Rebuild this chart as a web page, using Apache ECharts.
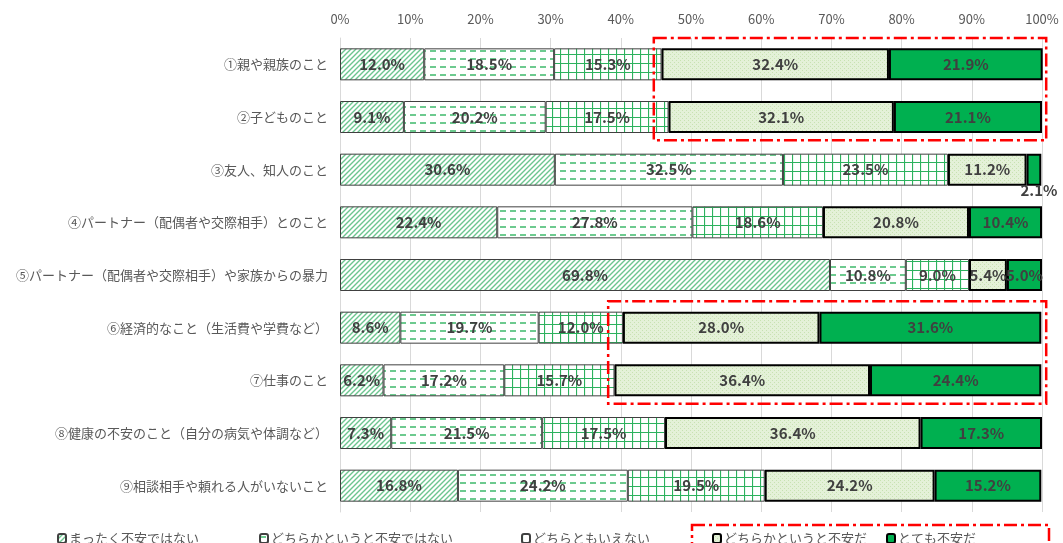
<!DOCTYPE html>
<html>
<head>
<meta charset="utf-8">
<script src="https://cdn.jsdelivr.net/npm/echarts@6/dist/echarts.min.js"></script>
<style>
  html, body { margin: 0; padding: 0; background: #fff; }
  #main { width: 1063px; height: 543px; }
</style>
</head>
<body>
<div id="main"></div>
<script>
var categories = [
  '①親や親族のこと',
  '②子どものこと',
  '③友人、知人のこと',
  '④パートナー（配偶者や交際相手）とのこと',
  '⑤パートナー（配偶者や交際相手）や家族からの暴力',
  '⑥経済的なこと（生活費や学費など）',
  '⑦仕事のこと',
  '⑧健康の不安のこと（自分の病気や体調など）',
  '⑨相談相手や頼れる人がいないこと'
];
var seriesNames = ['まったく不安ではない', 'どちらかというと不安ではない', 'どちらともいえない', 'どちらかというと不安だ', 'とても不安だ'];
var notAtAll  = [12.0, 9.1, 30.6, 22.4, 69.8, 8.6, 6.2, 7.3, 16.8];
var ratherNot = [18.5, 20.2, 32.5, 27.8, 10.8, 19.7, 17.2, 21.5, 24.2];
var neither   = [15.3, 17.5, 23.5, 18.6, 9.0, 12.0, 15.7, 17.5, 19.5];
var ratherYes = [32.4, 32.1, 11.2, 20.8, 5.4, 28.0, 36.4, 36.4, 24.2];
var very      = [21.9, 21.1, 2.1, 10.4, 5.0, 31.6, 24.4, 17.3, 15.2];
var xTicks = [0, 10, 20, 30, 40, 50, 60, 70, 80, 90, 100];

// fill patterns
function pattern(w, h, draw) {
  var c = document.createElement('canvas');
  c.width = w; c.height = h;
  var ctx = c.getContext('2d');
  draw(ctx, w, h);
  return { image: c, repeat: 'repeat' };
}
var diag = pattern(5, 5, function (ctx, w, h) {
  ctx.fillStyle = '#ffffff'; ctx.fillRect(0, 0, w, h);
  ctx.strokeStyle = '#6cc58f'; ctx.lineWidth = 1.4;
  ctx.beginPath();
  ctx.moveTo(-1, h + 1); ctx.lineTo(w + 1, -1);
  ctx.moveTo(-1, 1); ctx.lineTo(1, -1);
  ctx.moveTo(w - 1, h + 1); ctx.lineTo(w + 1, h - 1);
  ctx.stroke();
});
var dashes = pattern(10, 8, function (ctx, w, h) {
  ctx.fillStyle = '#ffffff'; ctx.fillRect(0, 0, w, h);
  ctx.strokeStyle = '#3cb86a'; ctx.lineWidth = 1.5;
  ctx.beginPath(); ctx.moveTo(0, 3); ctx.lineTo(6, 3); ctx.stroke();
});
var grid = pattern(8, 9, function (ctx, w, h) {
  ctx.fillStyle = '#ffffff'; ctx.fillRect(0, 0, w, h);
  ctx.strokeStyle = '#2db25e'; ctx.lineWidth = 1.2;
  ctx.beginPath();
  ctx.moveTo(0.5, 0); ctx.lineTo(0.5, h);
  ctx.moveTo(0, 0.5); ctx.lineTo(w, 0.5);
  ctx.stroke();
});
var dots = pattern(4, 4, function (ctx, w, h) {
  ctx.fillStyle = '#e4f1d8'; ctx.fillRect(0, 0, w, h);
  ctx.fillStyle = '#c8e2b2';
  ctx.fillRect(0, 0, 1, 1); ctx.fillRect(2, 2, 1, 1);
});

var fills = [diag, dashes, grid, dots, '#00b050'];
var borders = [
  { borderColor: '#404040', borderWidth: 1 },
  { borderColor: '#404040', borderWidth: 1 },
  { borderColor: '#404040', borderWidth: 1 },
  { borderColor: '#000000', borderWidth: 2 },
  { borderColor: '#000000', borderWidth: 2 }
];
var allData = [notAtAll, ratherNot, neither, ratherYes, very];

var labelFont = { fontFamily: 'Noto Sans CJK JP', fontWeight: 'bold', fontSize: 15, color: '#404040' };

var series = allData.map(function (arr, s) {
  return {
    name: seriesNames[s],
    type: 'bar',
    stack: 'total',
    barWidth: 32,
    itemStyle: Object.assign({ color: fills[s] }, borders[s]),
    label: Object.assign({
      show: true,
      position: 'inside',
      formatter: function (p) { return p.value.toFixed(1) + '%'; }
    }, labelFont),
    data: arr.map(function (v) {
      if (s === 4 && v < 3) {
        return { value: v, label: { position: 'bottom', distance: 0, offset: [5, -3] } };
      }
      return v;
    })
  };
});

var legendLeft = [52, 254, 516, 707, 881];
var legends = seriesNames.map(function (n, i) {
  return {
    data: [n],
    left: legendLeft[i],
    top: 527,
    itemWidth: 8,
    itemHeight: 9,
    itemGap: 4,
    textStyle: { fontFamily: 'Noto Sans CJK JP', fontSize: 13, color: '#595959', padding: [0, 0, 0, -2] },
    selectedMode: false
  };
});

var myChart = echarts.init(document.getElementById('main'));
var option = {
  animation: false,
  legend: legends,
  grid: { left: 340, right: 21, top: 38, bottom: 31, containLabel: false },
  xAxis: {
    type: 'value',
    position: 'top',
    min: 0,
    max: 100,
    interval: 10,
    axisLine: { show: false },
    axisTick: { show: false },
    splitLine: { lineStyle: { color: '#d9d9d9', width: 1 } },
    axisLabel: {
      fontFamily: 'Noto Sans CJK JP',
      fontSize: 13,
      color: '#595959',
      margin: 12,
      formatter: function (v) { return xTicks.indexOf(v) >= 0 ? v + '%' : ''; }
    }
  },
  yAxis: {
    type: 'category',
    inverse: true,
    data: categories,
    axisTick: { show: false },
    axisLine: { lineStyle: { color: '#d9d9d9' } },
    axisLabel: { fontFamily: 'Noto Sans CJK JP', fontSize: 13, color: '#595959', margin: 12 }
  },
  series: series
};
myChart.setOption(option);

// red dash-dot highlight boxes
function box(left, right, r0, r1) {
  var a = myChart.convertToPixel({ gridIndex: 0 }, [left, r0]);
  var b = myChart.convertToPixel({ gridIndex: 0 }, [right, r1]);
  var band = myChart.convertToPixel({ gridIndex: 0 }, [0, 1])[1] - myChart.convertToPixel({ gridIndex: 0 }, [0, 0])[1];
  var y0 = a[1] - band / 2;
  var y1 = b[1] + band / 2 - 3;
  return {
    type: 'rect',
    shape: { x: a[0], y: y0, width: b[0] - a[0], height: y1 - y0 },
    style: { fill: 'none', stroke: '#ff0000', lineWidth: 2.5, lineDash: [13, 4, 3, 4] },
    z: 100
  };
}
myChart.setOption({
  graphic: [
    box(44.7, 100.6, 0, 1),
    box(38.2, 100.6, 5, 6),
    {
      type: 'rect',
      shape: { x: 692, y: 525, width: 357, height: 30 },
      style: { fill: 'none', stroke: '#ff0000', lineWidth: 2.5, lineDash: [13, 4, 3, 4] },
      z: 100
    }
  ]
});
</script>
</body>
</html>
